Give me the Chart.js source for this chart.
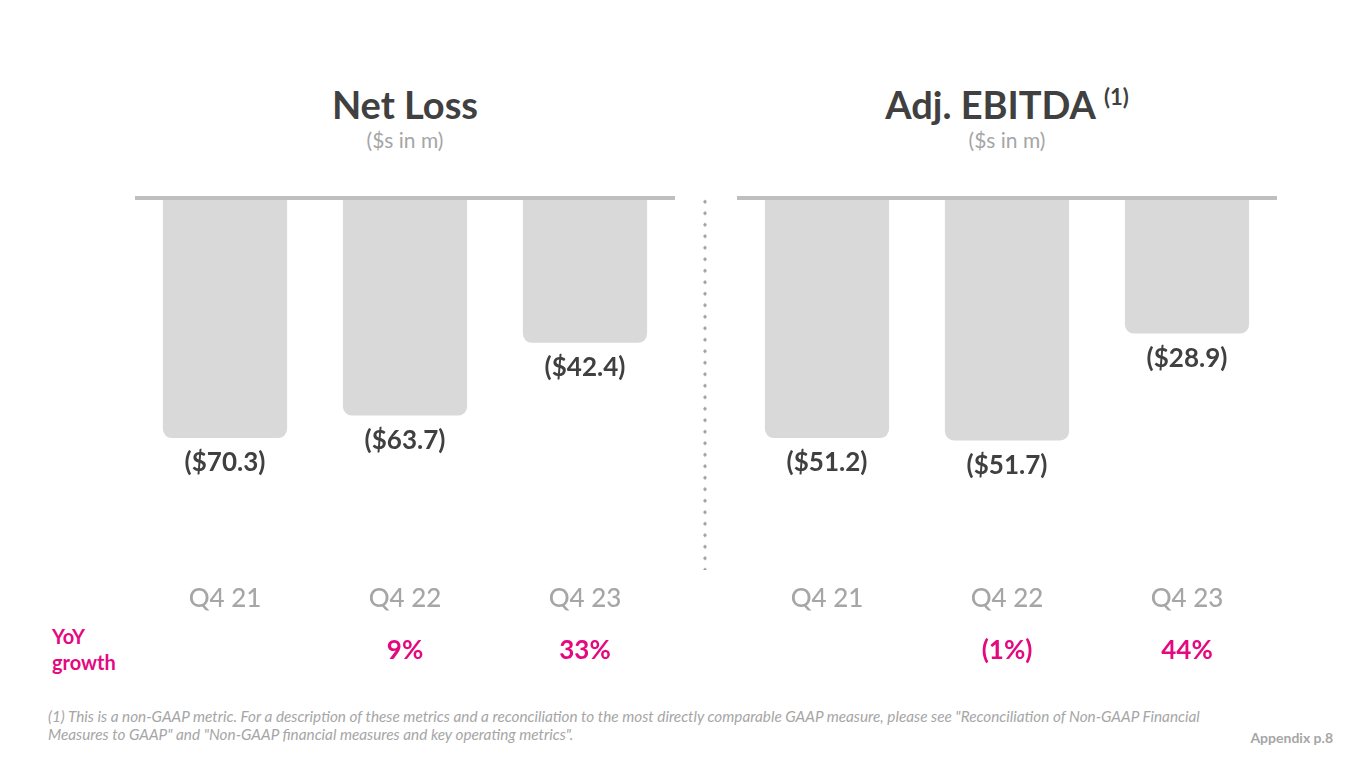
<!DOCTYPE html>
<html>
<head>
<meta charset="utf-8">
<script src="https://cdn.jsdelivr.net/npm/chart.js@4"></script>
<style>
  html, body { margin:0; padding:0; background:#fff; width:1365px; height:768px; overflow:hidden; font-family: Lato, "Open Sans", sans-serif; }
  .title { position:absolute; width:540px; text-align:center; color:#404040; font-weight:700; font-size:38px; top:81px; }
  .title sup { font-size:22px; vertical-align: 14px; line-height:0; }
  .sub { position:absolute; width:540px; text-align:center; color:#a6a6a6; font-size:21px; top:127px; }
  .box { position:absolute; top:150px; width:540px; height:540px; }
  .dots { position:absolute; left:703px; top:196px; width:4px; height:374px;
          background-image: radial-gradient(circle, #a0a0a0 1.4px, rgba(255,255,255,0) 1.8px);
          background-size: 4px 11.5px; background-repeat: repeat-y; }
  .yoy { position:absolute; left:52px; top:623px; color:#e5097f; font-size:20px; font-weight:700; line-height:26px; }
  .foot { position:absolute; left:48px; top:707px; color:#a6a6a6; font-size:15.3px; font-style:italic; line-height:18px; width:1165px; }
  .app { position:absolute; right:32px; top:729px; color:#a6a6a6; font-size:14px; font-weight:700; }
</style>
</head>
<body>
<div class="title" style="left:135px;">Net Loss</div>
<div class="sub" style="left:135px;">($s in m)</div>
<div class="title" style="left:737px;">Adj. EBITDA <sup>(1)</sup></div>
<div class="sub" style="left:737px;">($s in m)</div>
<div class="box" style="left:135px;"><canvas id="c1"></canvas></div>
<div class="box" style="left:737px;"><canvas id="c2"></canvas></div>
<div class="dots"></div>
<div class="yoy">YoY<br>growth</div>
<div class="foot">(1) This is a non-GAAP metric. For a description of these metrics and a reconciliation to the most directly comparable GAAP measure, please see "Reconciliation of Non-GAAP Financial Measures to GAAP" and "Non-GAAP financial measures and key operating metrics".</div>
<div class="app">Appendix p.8</div>
<script>
const categories = ['Q4 21', 'Q4 22', 'Q4 23'];
const netLoss = [-70.3, -63.7, -42.4];
const adjEbitda = [-51.2, -51.7, -28.9];
const yoyNetLoss = ['', '9%', '33%'];
const yoyEbitda = ['', '(1%)', '44%'];

const fmt = v => '($' + Math.abs(v).toFixed(1) + ')';

const labelPlugin = {
  id: 'labels',
  afterDatasetsDraw(chart, args, opts) {
    const ctx = chart.ctx;
    const meta = chart.getDatasetMeta(0);
    const data = chart.data.datasets[0].data;
    ctx.save();
    ctx.textAlign = 'center';
    ctx.textBaseline = 'middle';
    meta.data.forEach((bar, i) => {
      ctx.fillStyle = '#404040';
      ctx.font = '700 26px Lato';
      ctx.fillText(fmt(data[i]), bar.x, bar.y + 25);
      ctx.fillStyle = '#e5097f';
      ctx.font = '700 26px Lato';
      ctx.fillText(opts.yoy[i], bar.x, 501);
    });
    ctx.restore();
  }
};

function makeChart(id, values, minV, yoy) {
  new Chart(document.getElementById(id), {
    type: 'bar',
    data: { labels: categories, datasets: [{ data: values, backgroundColor: '#d9d9d9', borderRadius: 9, borderSkipped: 'start', barPercentage: 0.69, categoryPercentage: 1.0 }] },
    options: {
      responsive: true, maintainAspectRatio: false, animation: false,
      layout: { padding: { top: 48, left: 0, right: 0, bottom: 0 } },
      plugins: { legend: { display: false }, tooltip: { enabled: false }, labels: { yoy: yoy } },
      scales: {
        x: {
          grid: { display: false, drawTicks: false }, border: { display: false },
          ticks: { color: '#a6a6a6', font: { family: 'Lato', size: 26, weight: '500' }, padding: 8 },
          afterFit: s => { s.height = 115; }
        },
        y: {
          min: minV, max: 0,
          ticks: { display: false, stepSize: 10 },
          border: { display: false },
          grid: { drawTicks: false, lineWidth: 4, color: c => (c.tick && c.tick.value === 0) ? '#bfbfbf' : 'rgba(0,0,0,0)' },
          afterFit: s => { s.width = 0; }
        }
      }
    },
    plugins: [labelPlugin]
  });
}
makeChart('c1', netLoss, -110.4, yoyNetLoss);
makeChart('c2', adjEbitda, -80.4, yoyEbitda);
</script>
</body>
</html>
